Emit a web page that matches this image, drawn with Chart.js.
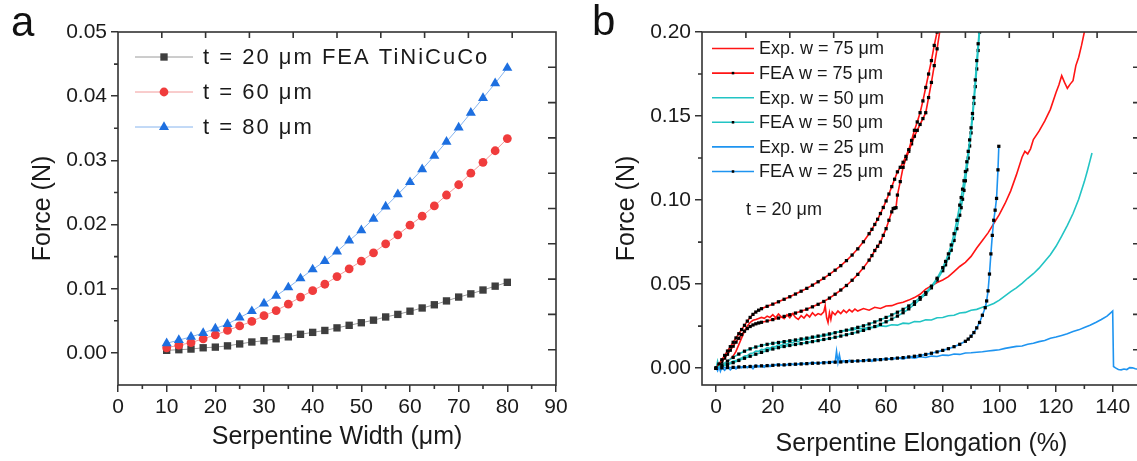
<!DOCTYPE html>
<html>
<head>
<meta charset="utf-8">
<script src="https://cdn.jsdelivr.net/npm/chart.js@4.4.0/dist/chart.umd.min.js"></script>
<style>
html, body { margin: 0; padding: 0; background: #fff; }
body { width: 1137px; height: 461px; overflow: hidden; position: relative; font-family: Arial, "Liberation Sans", sans-serif; }
canvas { position: absolute; top: 0; }
#chartA { left: 0; }
#chartB { left: 580px; }
.panel { position: absolute; font-size: 42px; line-height: 1; color: #111; }
</style>
</head>
<body>
<canvas id="chartA" width="580" height="461"></canvas>
<canvas id="chartB" width="570" height="461"></canvas>
<div class="panel" style="left:11px; top:1px">a</div>
<div class="panel" style="left:592px; top:0px">b</div>
<script>
// ---- panel a : FEA force vs serpentine width ----
const widthUm = [10,12.5,15,17.5,20,22.5,25,27.5,30,32.5,35,37.5,40,42.5,45,47.5,50,52.5,55,57.5,60,62.5,65,67.5,70,72.5,75,77.5,80];
const forceT20 = [0.0004,0.0005,0.0006,0.0008,0.0009,0.0011,0.0014,0.0017,0.0019,0.0022,0.0025,0.0029,0.0032,0.0035,0.0039,0.0043,0.0047,0.0051,0.0056,0.0060,0.0065,0.0070,0.0075,0.0081,0.0087,0.0092,0.0098,0.0104,0.0110];
const forceT60 = [0.0008,0.0012,0.0016,0.0022,0.0028,0.0035,0.0042,0.0049,0.0058,0.0066,0.0076,0.0087,0.0097,0.0107,0.0119,0.0131,0.0143,0.0156,0.0170,0.0184,0.0199,0.0213,0.0229,0.0246,0.0262,0.0280,0.0297,0.0315,0.0334];
const forceT80 = [0.0015,0.0020,0.0025,0.0031,0.0038,0.0045,0.0055,0.0065,0.0077,0.0089,0.0102,0.0116,0.0130,0.0143,0.0158,0.0175,0.0191,0.0209,0.0228,0.0247,0.0266,0.0286,0.0307,0.0329,0.0351,0.0374,0.0397,0.0420,0.0444];
const widthTicks = [0,10,20,30,40,50,60,70,80,90];
const forceTicksA = [0,0.01,0.02,0.03,0.04,0.05];

// ---- panel b : force vs serpentine elongation ----
const elongTicks = [0,20,40,60,80,100,120,140];
const forceTicksB = [0,0.05,0.10,0.15,0.20];

const exp75X = [0,1,2,3,4,5,6,7,8,9,
  10,11,12,13,14,15,16,17,18,19,
  20,21,22,23,24,25,26,27,28,29,
  30,31,32,33,34,35,36,37,38,38.5,
  39,39.5,40,40.5,41,42,43,44,45,46,
  47,48,49,50,52,54,56,58,60,62,
  64,66,68,70,72,74,76,78,80,82,
  84,86,88,90,92,94,96,98,100,102,
  104,106,108,109,110,111,112,114,116,118,
  120,121,122,123,124,125,126,127,128,129,
  130,131];
const exp75Y = [0,0.0002,0.0008,0.0020,0.0038,0.0055,0.0072,0.0100,0.0140,0.0180,
  0.0220,0.0252,0.0272,0.0285,0.0290,0.0296,0.0302,0.0297,0.0310,0.0302,
  0.0318,0.0300,0.0322,0.0305,0.0295,0.0318,0.0300,0.0325,0.0302,0.0290,
  0.0312,0.0298,0.0320,0.0305,0.0330,0.0312,0.0325,0.0318,0.0335,0.0372,
  0.0300,0.0272,0.0330,0.0290,0.0335,0.0318,0.0340,0.0325,0.0345,0.0330,
  0.0348,0.0335,0.0352,0.0340,0.0355,0.0345,0.0362,0.0355,0.0370,0.0372,
  0.0385,0.0392,0.0405,0.0420,0.0440,0.0470,0.0490,0.0510,0.0525,0.0545,
  0.0575,0.0605,0.0630,0.0665,0.0715,0.0760,0.0805,0.0860,0.0915,0.0980,
  0.1055,0.1150,0.1255,0.1290,0.1275,0.1305,0.1360,0.1410,0.1470,0.1540,
  0.1640,0.1685,0.1740,0.1700,0.1665,0.1690,0.1710,0.1800,0.1850,0.1920,
  0.2000,0.2080];

const exp50X = [0,0.5,1,2,3,4,5,6,7,8,
  9,10,11,12,13,14,15,16,17,18,
  19,20,21,22,23,24,25,26,27,28,
  29,30,32,34,36,38,40,42,44,46,
  48,50,52,54,56,58,60,62,64,66,
  68,70,72,74,76,78,80,82,84,86,
  88,90,92,94,96,98,100,102,104,106,
  108,110,112,114,116,118,120,122,124,126,
  128,130,131,132,132.7];
const exp50Y = [0,0.0040,0.0005,0.0015,0.0020,0.0030,0.0032,0.0042,0.0045,0.0055,
  0.0060,0.0072,0.0075,0.0088,0.0090,0.0102,0.0100,0.0112,0.0110,0.0122,
  0.0118,0.0130,0.0128,0.0140,0.0135,0.0148,0.0142,0.0155,0.0150,0.0162,
  0.0157,0.0168,0.0170,0.0182,0.0185,0.0195,0.0198,0.0212,0.0218,0.0228,
  0.0226,0.0236,0.0234,0.0244,0.0242,0.0252,0.0249,0.0258,0.0256,0.0268,
  0.0265,0.0278,0.0276,0.0288,0.0287,0.0300,0.0302,0.0312,0.0315,0.0328,
  0.0332,0.0345,0.0350,0.0362,0.0372,0.0385,0.0405,0.0430,0.0455,0.0478,
  0.0505,0.0535,0.0562,0.0595,0.0635,0.0675,0.0725,0.0785,0.0850,0.0920,
  0.1005,0.1110,0.1170,0.1235,0.1280];

const exp25X = [0,0.5,1,1.5,2,3,4,5,6,7,
  8,9,10,11,12,13,14,15,16,17,
  18,19,20,22,24,26,28,30,32,34,
  36,38,40,41,42,42.5,43,43.5,44,45,
  46,47,48,50,52,54,55,56,58,60,
  62,64,66,68,70,72,74,76,78,80,
  82,84,86,88,90,92,94,96,98,100,
  102,104,106,108,110,112,114,116,118,120,
  122,124,126,128,130,132,134,136,138,139,
  140,140.3,141,142,143,144,145,146,147,148,
  149,150];
const exp25Y = [0,-0.0015,0.0010,-0.0018,0.0005,-0.0012,0.0008,-0.0010,0.0006,-0.0005,
  0.0010,0.0002,0.0012,0.0003,0.0015,-0.0003,0.0018,0.0008,0.0012,0.0005,
  0.0020,0.0010,0.0018,0.0025,0.0015,0.0028,0.0018,0.0030,0.0024,0.0035,
  0.0027,0.0038,0.0032,0.0040,0.0033,0.0100,0.0035,0.0080,0.0038,0.0045,
  0.0036,0.0048,0.0040,0.0046,0.0042,0.0052,0.0040,0.0055,0.0048,0.0058,
  0.0052,0.0062,0.0055,0.0065,0.0060,0.0068,0.0064,0.0072,0.0070,0.0078,
  0.0076,0.0084,0.0082,0.0090,0.0092,0.0095,0.0098,0.0102,0.0106,0.0110,
  0.0118,0.0124,0.0130,0.0132,0.0142,0.0148,0.0158,0.0165,0.0178,0.0185,
  0.0195,0.0205,0.0218,0.0228,0.0242,0.0255,0.0272,0.0290,0.0310,0.0325,
  0.0340,0.0010,0.0002,-0.0008,-0.0010,-0.0005,-0.0008,0.0003,0.0002,-0.0003,
  -0.0006,-0.0004];

// two FEA branches per width for w = 75 and w = 50
const fea75aX = [0,1,2,3,4,5,6,7,8,9,
  10,11,12,13,14,15,16,18,20,22,
  24,26,28,30,32,34,36,38,40,42,
  44,46,48,50,52,54,55,56,57,58,
  59,60,61,62,63,64,65,66,67,68,
  69,70,71,72,73,74,75,76,77,78,
  79];
const fea75aY = [0,0.0025,0.0050,0.0076,0.0102,0.0128,0.0154,0.0180,0.0205,0.0230,
  0.0255,0.0280,0.0302,0.0320,0.0334,0.0345,0.0354,0.0368,0.0381,0.0395,
  0.0410,0.0425,0.0441,0.0458,0.0475,0.0494,0.0514,0.0535,0.0558,0.0583,
  0.0610,0.0640,0.0673,0.0710,0.0752,0.0800,0.0826,0.0855,0.0886,0.0920,
  0.0956,0.0995,0.1036,0.1080,0.1124,0.1168,0.1195,0.1225,0.1260,0.1300,
  0.1355,0.1415,0.1465,0.1520,0.1590,0.1670,0.1750,0.1830,0.1920,0.2000,
  0.2090];

const fea75bX = [0,1,2,3,4,5,6,7,8,9,
  10,11,12,13,14,15,16,18,20,22,
  24,26,28,30,32,34,36,38,40,42,
  44,46,48,50,52,54,55,56,57,58,
  59,60,61,62,62.5,63,63.5,64,65,66,
  67,68,69,70,71,72,73,74,75,76,
  77,78,79,80];
const fea75bY = [0,0.0018,0.0038,0.0060,0.0083,0.0107,0.0131,0.0155,0.0178,0.0200,
  0.0220,0.0236,0.0248,0.0257,0.0264,0.0269,0.0273,0.0281,0.0289,0.0298,
  0.0308,0.0318,0.0328,0.0339,0.0351,0.0365,0.0380,0.0397,0.0417,0.0440,
  0.0465,0.0492,0.0523,0.0558,0.0597,0.0643,0.0670,0.0700,0.0725,0.0750,
  0.0790,0.0830,0.0880,0.0930,0.0950,0.0952,0.0955,0.1030,0.1110,0.1195,
  0.1245,0.1290,0.1335,0.1380,0.1415,0.1450,0.1485,0.1520,0.1610,0.1700,
  0.1800,0.1900,0.2010,0.2120];

const fea50aX = [0,2,4,6,8,10,12,14,16,18,
  20,22,24,26,28,30,32,34,36,38,
  40,42,44,46,48,50,52,54,56,58,
  60,62,64,66,68,70,72,74,76,78,
  80,81,82,83,84,85,86,86.5,87,87.5,
  88,88.5,89,89.5,90,90.5,91,91.5,92,92.5,
  93];
const fea50aY = [0,0.0020,0.0042,0.0064,0.0084,0.0101,0.0115,0.0126,0.0135,0.0142,
  0.0148,0.0153,0.0158,0.0163,0.0168,0.0174,0.0179,0.0185,0.0191,0.0197,
  0.0204,0.0211,0.0218,0.0226,0.0234,0.0243,0.0252,0.0263,0.0275,0.0288,
  0.0302,0.0317,0.0333,0.0350,0.0370,0.0395,0.0420,0.0450,0.0488,0.0535,
  0.0598,0.0635,0.0680,0.0733,0.0800,0.0880,0.0970,0.1015,0.1065,0.1115,
  0.1170,0.1228,0.1290,0.1358,0.1430,0.1515,0.1610,0.1715,0.1830,0.1930,
  0.2030];

const fea50bX = [0,2,4,6,8,10,12,14,16,18,
  20,22,24,26,28,30,32,34,36,38,
  40,42,44,46,48,50,52,54,56,58,
  60,62,64,66,68,70,72,74,76,78,
  80,81,82,83,84,85,86,86.5,87,87.5,
  88,88.5,89,89.5,90,90.5,91,91.5,92,92.5,
  93,93.5];
const fea50bY = [0,0.0010,0.0021,0.0033,0.0046,0.0059,0.0071,0.0083,0.0094,0.0105,
  0.0114,0.0122,0.0129,0.0135,0.0141,0.0146,0.0152,0.0158,0.0164,0.0171,
  0.0177,0.0184,0.0191,0.0199,0.0207,0.0216,0.0225,0.0236,0.0248,0.0261,
  0.0276,0.0292,0.0310,0.0330,0.0353,0.0380,0.0410,0.0440,0.0478,0.0525,
  0.0580,0.0615,0.0655,0.0702,0.0760,0.0830,0.0910,0.0955,0.1005,0.1058,
  0.1115,0.1180,0.1250,0.1322,0.1400,0.1485,0.1575,0.1675,0.1780,0.1890,
  0.2000,0.2120];

const fea25X = [0,2,4,6,8,10,12,14,16,18,
  20,22,24,26,28,30,32,34,36,38,
  40,42,44,46,48,50,52,54,56,58,
  60,62,64,66,68,70,72,74,76,78,
  80,82,84,86,88,89,90,91,92,93,
  94,95,95.5,96,96.5,97,97.5,98,98.5,99,
  99.5,99.8];
const fea25Y = [0,0.0002,0.0004,0.0005,0.0007,0.0009,0.0010,0.0012,0.0014,0.0015,
  0.0017,0.0019,0.0020,0.0022,0.0024,0.0025,0.0027,0.0029,0.0030,0.0032,
  0.0034,0.0036,0.0037,0.0039,0.0041,0.0043,0.0045,0.0047,0.0049,0.0051,
  0.0054,0.0057,0.0060,0.0063,0.0067,0.0071,0.0076,0.0082,0.0089,0.0097,
  0.0106,0.0116,0.0128,0.0142,0.0160,0.0173,0.0190,0.0212,0.0240,0.0272,
  0.0315,0.0360,0.0400,0.0460,0.0560,0.0680,0.0790,0.0880,0.0940,0.1010,
  0.1180,0.1320];

const FONT = 'Arial, "Liberation Sans", sans-serif';
const INK = '#1a1a1a';
Chart.defaults.font.family = FONT;
Chart.defaults.color = INK;

const RED = '#ff1414', CYAN = '#22c4c4', BLUE = '#1e94f0';

function pts(xs, ys) {
  return xs.map((x, i) => ({ x: x, y: ys[i] }));
}

// box frame, inward ticks on top/right, short minor ticks on left/bottom
const frameTicks = {
  id: 'frameTicks',
  afterDraw(chart, args, opts) {
    const { ctx, chartArea: a, scales } = chart;
    ctx.save();
    ctx.strokeStyle = '#333';
    ctx.lineWidth = 1.6;
    ctx.strokeRect(a.left, a.top, a.right - a.left, a.bottom - a.top);
    ctx.beginPath();
    for (let i = 1; i < 10; i++) {
      const x = a.left + (a.right - a.left) * i / 10;
      ctx.moveTo(x, a.top);
      ctx.lineTo(x, a.top + 6);
      const y = a.top + (a.bottom - a.top) * i / 10;
      ctx.moveTo(a.right, y);
      ctx.lineTo(a.right - 8, y);
    }
    opts.minorX.forEach(v => {
      const x = scales.x.getPixelForValue(v);
      ctx.moveTo(x, a.bottom);
      ctx.lineTo(x, a.bottom + 4);
    });
    opts.minorY.forEach(v => {
      const y = scales.y.getPixelForValue(v);
      ctx.moveTo(a.left, y);
      ctx.lineTo(a.left - 4, y);
    });
    ctx.stroke();
    ctx.restore();
  }
};

// legend drawn inside the plot box
const boxLegend = {
  id: 'boxLegend',
  afterDraw(chart, args, opts) {
    const ctx = chart.ctx;
    ctx.save();
    ctx.font = opts.size + 'px ' + FONT;
    ctx.textBaseline = 'middle';
    opts.items.forEach((idx, i) => {
      const ds = chart.data.datasets[idx];
      const y = opts.y + i * opts.gap;
      ctx.strokeStyle = ds.borderColor;
      ctx.lineWidth = ds.borderWidth;
      ctx.beginPath();
      ctx.moveTo(opts.x0, y);
      ctx.lineTo(opts.x1, y);
      ctx.stroke();
      if (ds.pointRadius > 0) {
        ctx.fillStyle = ds.pointBackgroundColor;
        Chart.helpers.drawPoint(ctx, { pointStyle: ds.pointStyle, radius: opts.markRadius || ds.pointRadius, rotation: 0, borderWidth: 0 }, (opts.x0 + opts.x1) / 2, y);
      }
      ctx.fillStyle = INK;
      ctx.letterSpacing = (opts.spacing || 0) + 'px';
      ctx.fillText(ds.label, opts.tx, y + 1);
      ctx.letterSpacing = '0px';
    });
    if (opts.note) {
      ctx.fillText(opts.note.text, opts.note.x, opts.note.y);
    }
    ctx.restore();
  }
};

function xAxis(min, max, ticks, title, titlePad, height) {
  return {
    type: 'linear', min: min, max: max,
    afterBuildTicks: s => { s.ticks = ticks.map(v => ({ value: v })); },
    afterFit: s => { s.height = height; },
    ticks: { font: { size: 21 }, padding: 3, color: INK, callback: v => v },
    grid: { drawOnChartArea: false, drawTicks: true, tickLength: 7, color: '#333', lineWidth: 1.5 },
    border: { display: false },
    title: { display: true, text: title, font: { size: 25 }, color: INK, padding: { top: 0, bottom: titlePad } }
  };
}

function yAxis(min, max, ticks, titlePad, width) {
  return {
    type: 'linear', min: min, max: max,
    afterBuildTicks: s => { s.ticks = ticks.map(v => ({ value: v })); },
    afterFit: s => { s.width = width; },
    ticks: { font: { size: 21 }, padding: 4, color: INK, callback: v => v.toFixed(2) },
    grid: { drawOnChartArea: false, drawTicks: true, tickLength: 7, color: '#333', lineWidth: 1.5 },
    border: { display: false },
    title: { display: true, text: 'Force (N)', font: { size: 25 }, color: INK, padding: { top: titlePad, bottom: 0 } }
  };
}

// ---- chart a ----
new Chart(document.getElementById('chartA'), {
  type: 'scatter',
  data: {
    datasets: [
      { label: 't = 80 μm', data: pts(widthUm, forceT80), showLine: true, borderColor: '#86b4ee', borderWidth: 1,
        pointStyle: 'triangle', pointRadius: 5.8, pointBackgroundColor: '#1d6fe0', pointBorderWidth: 0 },
      { label: 't = 60 μm', data: pts(widthUm, forceT60), showLine: true, borderColor: '#f29a9a', borderWidth: 1,
        pointStyle: 'circle', pointRadius: 4.4, pointBackgroundColor: '#f03c3c', pointBorderWidth: 0 },
      { label: 't = 20 μm FEA TiNiCuCo', data: pts(widthUm, forceT20), showLine: true, borderColor: '#9a9a9a', borderWidth: 1,
        pointStyle: 'rect', pointRadius: 5.2, pointBackgroundColor: '#3e3e3e', pointBorderWidth: 0 }
    ]
  },
  options: {
    responsive: false, animation: false, devicePixelRatio: 1,
    layout: { padding: { top: 32, right: 24, left: 0, bottom: 0 } },
    scales: {
      x: xAxis(0, 90, widthTicks, 'Serpentine Width (μm)', 9, 76),
      y: yAxis(-0.005, 0.05, forceTicksA, 28, 118)
    },
    plugins: {
      legend: { display: false },
      tooltip: { enabled: false },
      frameTicks: { minorX: [5,15,25,35,45,55,65,75,85], minorY: [0.005,0.015,0.025,0.035,0.045] },
      boxLegend: { items: [2, 1, 0], x0: 135, x1: 193, tx: 203, y: 57, gap: 35, size: 22, spacing: 2 }
    }
  },
  plugins: [frameTicks, boxLegend]
});

// ---- chart b ----
const feaStyle = (color) => ({ showLine: true, borderColor: color, borderWidth: 1.6, pointStyle: 'rect',
  pointRadius: 2.3, pointBackgroundColor: '#000', pointBorderWidth: 0 });
const expStyle = (color) => ({ showLine: true, borderColor: color, borderWidth: 1.6, pointRadius: 0 });

new Chart(document.getElementById('chartB'), {
  type: 'scatter',
  data: {
    datasets: [
      Object.assign({ label: 'FEA w = 25 μm', data: pts(fea25X, fea25Y) }, feaStyle(BLUE)),
      Object.assign({ label: 'FEA w = 50 μm', data: pts(fea50aX, fea50aY) }, feaStyle(CYAN)),
      Object.assign({ label: 'FEA w = 50 μm', data: pts(fea50bX, fea50bY) }, feaStyle(CYAN)),
      Object.assign({ label: 'FEA w = 75 μm', data: pts(fea75aX, fea75aY) }, feaStyle(RED)),
      Object.assign({ label: 'FEA w = 75 μm', data: pts(fea75bX, fea75bY) }, feaStyle(RED)),
      Object.assign({ label: 'Exp. w = 25 μm', data: pts(exp25X, exp25Y) }, expStyle(BLUE)),
      Object.assign({ label: 'Exp. w = 50 μm', data: pts(exp50X, exp50Y) }, expStyle(CYAN)),
      Object.assign({ label: 'Exp. w = 75 μm', data: pts(exp75X, exp75Y) }, expStyle(RED))
    ]
  },
  options: {
    responsive: false, animation: false, devicePixelRatio: 1,
    layout: { padding: { top: 32, right: 9, left: 0, bottom: 0 } },
    scales: {
      x: xAxis(-5, 150, elongTicks, 'Serpentine Elongation (%)', 2, 76),
      y: yAxis(-0.01, 0.2, forceTicksB, 32, 122)
    },
    plugins: {
      legend: { display: false },
      tooltip: { enabled: false },
      frameTicks: { minorX: [10,30,50,70,90,110,130,150], minorY: [0.025,0.075,0.125,0.175] },
      boxLegend: { items: [7, 3, 6, 1, 5, 0], x0: 132, x1: 174, tx: 179, y: 48.5, gap: 24.6, size: 18, markRadius: 1.8,
        note: { text: 't = 20 μm', x: 166, y: 210 } }
    }
  },
  plugins: [frameTicks, boxLegend]
});
</script>
</body>
</html>
